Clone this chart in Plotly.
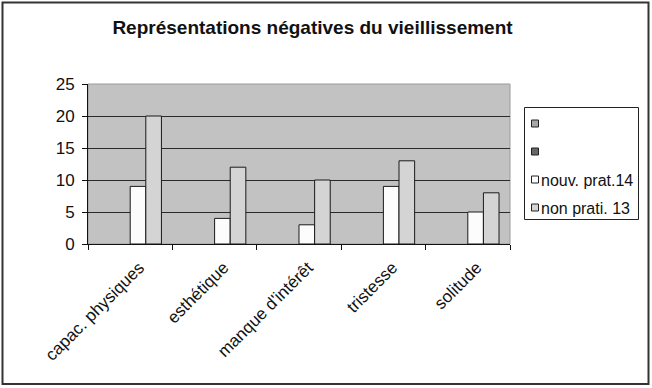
import plotly.graph_objects as go

categories = ["capac. physiques", "esthétique", "manque d'intérêt", "tristesse", "solitude"]
series_names = ["", "", "nouv. prat.14", "non prati. 13"]
serie1 = [None, None, None, None, None]
serie2 = [None, None, None, None, None]
nouv_prat = [9, 4, 3, 9, 5]
non_prati = [20, 12, 10, 13, 8]
y_ticks = [0, 5, 10, 15, 20, 25]

colors = ["#a6a6a6", "#666666", "#fcfcfc", "#d4d4d4"]
values = [serie1, serie2, nouv_prat, non_prati]

W, H = 652, 388
L, R, T, B = 88, 510, 84, 244

def px(x):
    return (x - L) / (R - L)

def py(y):
    return (B - y) / (B - T)

FONT = "Arial, 'Liberation Sans', sans-serif"

fig = go.Figure()
for i, (name, vals, col) in enumerate(zip(series_names, values, colors)):
    fig.add_trace(go.Bar(
        x=categories, y=vals, name=name,
        marker=dict(color=col, line=dict(color="#1a1a1a", width=1)),
        showlegend=False,
    ))

# legend box (built from series names / colours)
legend_top, legend_step = 123.5, 28.0
shapes = [
    dict(type="rect", xref="paper", yref="paper", x0=0, x1=1, y0=0, y1=1,
         line=dict(color="#9a9a9a", width=1), layer="below"),
    dict(type="rect", xref="paper", yref="paper",
         x0=px(524.5), x1=px(638.5), y0=py(107.5), y1=py(219.5),
         fillcolor="white", line=dict(color="#222222", width=1), layer="above"),
    dict(type="rect", xref="paper", yref="paper",
         x0=px(2.5), x1=px(648.5), y0=py(2.5), y1=py(384),
         line=dict(color="#333333", width=2)),
]
annotations = []
for i, (name, col) in enumerate(zip(series_names, colors)):
    cy = legend_top + i * legend_step
    shapes.append(dict(type="rect", xref="paper", yref="paper",
                       x0=px(531.5), x1=px(538.5), y0=py(cy - 3.5), y1=py(cy + 3.5),
                       fillcolor=col, line=dict(color="#222222", width=1), layer="above"))
    if name:
        annotations.append(dict(xref="paper", yref="paper", x=px(539), y=py(cy + 0.5),
                                xanchor="left", yanchor="middle", showarrow=False,
                                text=name, font=dict(family=FONT, size=16, color="#111111")))

fig.update_layout(
    width=W, height=H,
    margin=dict(l=L, r=W - R, t=T, b=H - B, pad=0, autoexpand=False),
    paper_bgcolor="white",
    plot_bgcolor="#c2c2c2",
    barmode="group",
    bargap=0.26,
    bargroupgap=0,
    font=dict(family=FONT, size=14, color="#111111"),
    title=dict(text="<b>Représentations négatives du vieillissement</b>",
               x=(112 + 513) / 2 / W, xanchor="center",
               y=1 - 27 / H, yanchor="middle",
               font=dict(family=FONT, size=19, color="#111111")),
    showlegend=False,
    xaxis=dict(
        type="category", tickson="boundaries", ticks="outside", ticklen=5,
        tickcolor="#111111", tickangle=-45, showline=True, linecolor="#111111",
        linewidth=1, showgrid=False, tickfont=dict(family=FONT, size=17),
        ticklabelstandoff=6, ticklabelshift=9,
    ),
    yaxis=dict(
        range=[0, 25], tickvals=y_ticks, ticks="outside", ticklen=5,
        tickcolor="#111111", showline=True, linecolor="#111111", linewidth=1,
        showgrid=True, gridcolor="#2a2a2a", gridwidth=1, zeroline=False,
        tickfont=dict(family=FONT, size=17), ticklabelstandoff=4,
    ),
    shapes=shapes,
    annotations=annotations,
)

fig.write_html("out.html", config={"displayModeBar": False},
               post_script="document.body.style.margin='0';document.body.style.overflow='hidden';")
